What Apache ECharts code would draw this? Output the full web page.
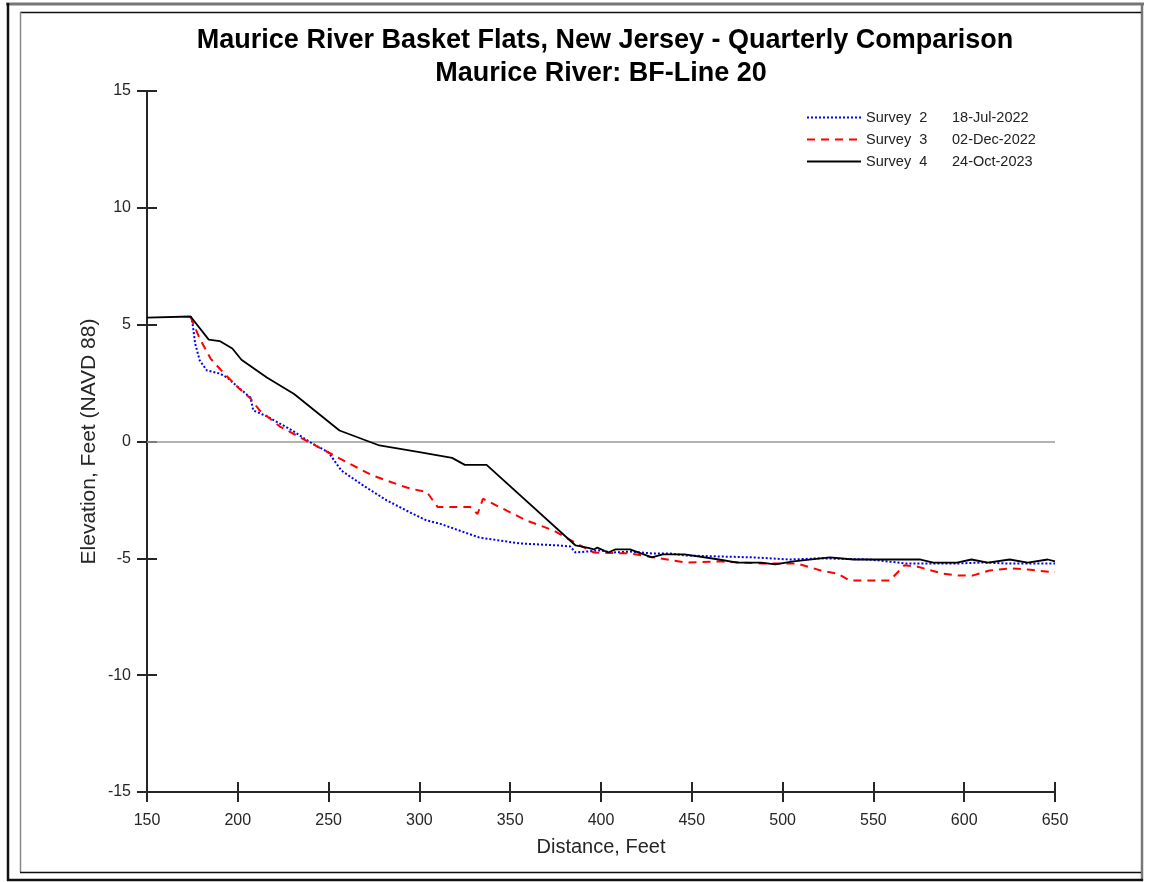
<!DOCTYPE html>
<html>
<head>
<meta charset="utf-8">
<script src="https://cdn.jsdelivr.net/npm/echarts@6/dist/echarts.min.js"></script>
<style>html,body{margin:0;padding:0;background:#fff;}#c{width:1152px;height:882px;}</style>
</head>
<body>
<div id="c"></div>
<script>
var titleLines = ['Maurice River Basket Flats, New Jersey - Quarterly Comparison', 'Maurice River: BF-Line 20'];
var xTicks = {min: 150, max: 650, interval: 50};
var yTicks = {min: -15, max: 15, interval: 5};
var seriesNames = ['Survey  2', 'Survey  3', 'Survey  4'];
var seriesDates = ['18-Jul-2022', '02-Dec-2022', '24-Oct-2023'];

var survey2 = [[174,5.35],[175,5.1],[176.5,4.2],[179,3.47],[183,3.04],[190,2.91],[194,2.74],[201,2.27],[207,1.88],[208.5,1.33],[216,1.08],[230,0.47],[240,-0.04],[250,-0.47],[257,-1.24],[269,-1.88],[282,-2.52],[295,-3.04],[304,-3.38],[311,-3.51],[333,-4.11],[355,-4.36],[377,-4.45],[383,-4.49],[386,-4.75],[392,-4.71],[399,-4.66],[407,-4.75],[416,-4.71],[428,-4.79],[438,-4.79],[447,-4.88],[465,-4.92],[484,-4.96],[504,-5.05],[521,-5.0],[548,-5.05],[568,-5.22],[583,-5.22],[596,-5.22],[610,-5.18],[624,-5.22],[635,-5.22],[650,-5.22]];
var survey3 = [[174,5.35],[175.5,5.05],[179,4.41],[185,3.55],[192,2.95],[201,2.25],[207,1.84],[212,1.33],[223,0.65],[239,-0.02],[256,-0.72],[274,-1.45],[293,-1.97],[300,-2.1],[304,-2.15],[310,-2.8],[328,-2.8],[332,-3.1],[335,-2.45],[359,-3.38],[374,-3.81],[385,-4.3],[396,-4.75],[416,-4.79],[432,-5.0],[447,-5.18],[465,-5.13],[488,-5.22],[508,-5.22],[521,-5.52],[530,-5.65],[537,-5.95],[559,-5.95],[567,-5.3],[574,-5.35],[588,-5.65],[596,-5.73],[605,-5.73],[614,-5.52],[625,-5.43],[635,-5.48],[650,-5.6]];
var survey4 = [[150,5.3],[174,5.35],[184,4.36],[190,4.3],[197,3.98],[202,3.5],[216,2.74],[231,2.03],[256,0.47],[278,-0.17],[300,-0.45],[318,-0.7],[325,-1.0],[337,-1.0],[386,-4.45],[393,-4.55],[396,-4.62],[398,-4.54],[404,-4.75],[408,-4.62],[416,-4.62],[428,-4.96],[434,-4.83],[446,-4.83],[465,-5.05],[475,-5.18],[488,-5.18],[496,-5.26],[506,-5.13],[526,-4.96],[539,-5.05],[576,-5.05],[583,-5.18],[596,-5.18],[604,-5.05],[613,-5.18],[625,-5.05],[635,-5.18],[646,-5.05],[650,-5.13]];

var FONT = '"Liberation Sans", Arial, sans-serif';
var AX = '#262626';
var gridRect = {left: 147, right: 97, top: 91, bottom: 90};
var chart = echarts.init(document.getElementById('c'), null, {renderer: 'canvas'});

function mainX(idx, inner) {
  return {
    type: 'value', gridIndex: idx, min: xTicks.min, max: xTicks.max, interval: xTicks.interval,
    name: inner ? '' : 'Distance, Feet', nameLocation: 'middle', nameGap: 45, nameMoveOverlap: false,
    nameTextStyle: {fontFamily: FONT, fontSize: 20, color: AX},
    axisLine: {show: !inner, onZero: false, lineStyle: {color: AX, width: 2}},
    axisTick: {show: true, inside: inner, length: 10, lineStyle: {color: AX, width: 2}},
    axisLabel: {show: !inner, margin: 21, fontFamily: FONT, fontSize: 16, color: AX},
    splitLine: {show: false}
  };
}
function mainY(idx, inner) {
  return {
    type: 'value', gridIndex: idx, min: yTicks.min, max: yTicks.max, interval: yTicks.interval,
    name: inner ? '' : 'Elevation, Feet (NAVD 88)', nameLocation: 'middle', nameGap: 47, nameMoveOverlap: false,
    nameTextStyle: {fontFamily: FONT, fontSize: 21, color: AX},
    axisLine: {show: !inner, onZero: false, lineStyle: {color: AX, width: 2}},
    axisTick: {show: true, inside: inner, length: 10, lineStyle: {color: AX, width: 2}},
    axisLabel: {show: !inner, margin: 16, fontFamily: FONT, fontSize: 16, color: AX},
    splitLine: {show: false}
  };
}

var option = {
  backgroundColor: '#fff',
  animation: false,
  grid: [Object.assign({}, gridRect), Object.assign({}, gridRect)],
  xAxis: [mainX(0, false), mainX(1, true)],
  yAxis: [mainY(0, false), mainY(1, true)],
  legend: {
    orient: 'vertical', left: 801, top: 105, itemWidth: 54, itemHeight: 14, itemGap: 7,
    data: seriesNames,
    itemStyle: {opacity: 0},
    formatter: function (n) { var i = seriesNames.indexOf(n); return '{a|' + n + '}{b|' + seriesDates[i] + '}'; },
    textStyle: {fontFamily: FONT, fontSize: 14.5, color: '#222',
      rich: {a: {width: 86, fontFamily: FONT, fontSize: 14.5, color: '#222'}, b: {fontFamily: FONT, fontSize: 14.5, color: '#222'}}}
  },
  graphic: [
    {type: 'line', shape: {x1: 6, y1: 4, x2: 1144, y2: 4}, style: {stroke: '#777', lineWidth: 3}},
    {type: 'line', shape: {x1: 1142, y1: 3, x2: 1142, y2: 881}, style: {stroke: '#777', lineWidth: 2.5}},
    {type: 'line', shape: {x1: 8, y1: 3, x2: 8, y2: 881}, style: {stroke: '#111', lineWidth: 2.5}},
    {type: 'line', shape: {x1: 7, y1: 880, x2: 1143, y2: 880}, style: {stroke: '#111', lineWidth: 2.5}},
    {type: 'line', shape: {x1: 20, y1: 12.5, x2: 1141, y2: 12.5}, style: {stroke: '#111', lineWidth: 1.5}},
    {type: 'line', shape: {x1: 20.5, y1: 12, x2: 20.5, y2: 872}, style: {stroke: '#888', lineWidth: 1.5}},
    {type: 'line', shape: {x1: 20, y1: 872.5, x2: 1141, y2: 872.5}, style: {stroke: '#111', lineWidth: 1.5}},
    {type: 'text', x: 605, y: 41, style: {text: titleLines[0], fontFamily: FONT, fontWeight: 'bold', fontSize: 27, fill: '#000', align: 'center', verticalAlign: 'middle'}},
    {type: 'text', x: 601, y: 74, style: {text: titleLines[1], fontFamily: FONT, fontWeight: 'bold', fontSize: 27, fill: '#000', align: 'center', verticalAlign: 'middle'}}
  ],
  series: [
    {name: seriesNames[0], type: 'line', xAxisIndex: 0, yAxisIndex: 0, data: survey2, symbol: 'none', z: 3,
      lineStyle: {color: '#0000ff', width: 2, type: [2, 2]}, itemStyle: {color: '#0000ff'}},
    {name: seriesNames[1], type: 'line', xAxisIndex: 0, yAxisIndex: 0, data: survey3, symbol: 'none', z: 4,
      lineStyle: {color: '#ff0000', width: 2, type: [8, 6]}, itemStyle: {color: '#ff0000'}},
    {name: seriesNames[2], type: 'line', xAxisIndex: 0, yAxisIndex: 0, data: survey4, symbol: 'none', z: 5,
      lineStyle: {color: '#000000', width: 1.8, type: 'solid'}, itemStyle: {color: '#000000'},
      markLine: {silent: true, symbol: 'none', z: 1, label: {show: false}, animation: false,
        lineStyle: {color: '#999', width: 1.5, type: 'solid'}, data: [{yAxis: 0}]}}
  ]
};
chart.setOption(option);
</script>
</body>
</html>
